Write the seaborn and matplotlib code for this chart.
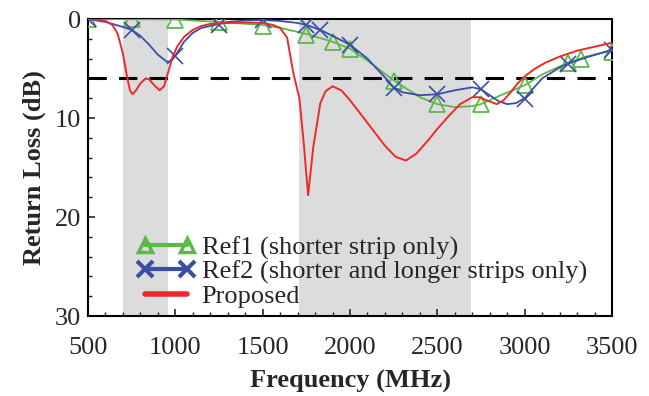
import numpy as np
import pandas as pd
import matplotlib
matplotlib.use("Agg")
import matplotlib.pyplot as plt
from matplotlib.lines import Line2D
from matplotlib.ticker import MultipleLocator
import seaborn as sns

# ---------------- data ----------------
# Proposed (red) curve
prop_f = [500, 550, 600, 640, 670, 700, 720, 740, 755, 775, 800, 830, 850, 880, 910, 935,
          960, 985, 1010, 1050, 1100, 1150, 1200, 1300, 1400, 1500, 1560, 1600, 1640, 1675,
          1710, 1735, 1760, 1790, 1830, 1860, 1900, 1950, 2000, 2100, 2200, 2260, 2320,
          2380, 2450, 2500, 2560, 2630, 2700, 2740, 2780, 2840, 2880, 2920, 2960, 3000,
          3060, 3120, 3200, 3300, 3400, 3500]
prop_rl = [0.0, 0.05, 0.2, 0.6, 1.5, 3.5, 5.5, 7.2, 7.6, 7.2, 6.5, 6.0, 6.1, 6.7, 7.2, 6.8,
           5.3, 3.8, 2.8, 1.8, 1.1, 0.7, 0.5, 0.4, 0.35, 0.4, 0.6, 0.9, 1.9, 5.4,
           8.0, 12.5, 17.8, 12.9, 8.5, 7.3, 6.8, 7.2, 8.2, 10.5, 12.8, 13.9, 14.3,
           13.6, 12.2, 11.1, 9.9, 8.6, 7.9, 7.9, 8.2, 8.6, 8.2, 7.4, 6.5, 5.8,
           5.0, 4.4, 3.8, 3.2, 2.8, 2.4]

# Ref1 (green) curve + markers
ref1_f = [500, 750, 1000, 1250, 1500, 1600, 1750, 1900, 2000, 2100, 2250, 2400, 2500, 2600,
          2700, 2750, 2850, 3000, 3100, 3250, 3350, 3500]
ref1_rl = [0.0, 0.0, 0.05, 0.3, 0.6, 0.9, 1.5, 2.3, 3.0, 4.2, 6.2, 7.9, 8.6, 8.9,
           8.8, 8.6, 7.8, 6.7, 5.6, 4.4, 3.8, 3.2]
ref1_mf = [500, 750, 1000, 1250, 1500, 1750, 1900, 2000, 2250, 2500, 2750, 3000, 3250, 3320, 3500]
ref1_mrl = [0.0, 0.0, 0.1, 0.3, 0.7, 1.6, 2.3, 3.0, 6.3, 8.6, 8.6, 6.7, 4.4, 4.0, 3.3]

# Ref2 (blue) curve + markers
ref2_f = [500, 600, 700, 750, 800, 850, 900, 950, 975, 1000, 1050, 1100, 1150, 1200, 1250,
          1300, 1400, 1500, 1600, 1700, 1750, 1830, 1900, 2000, 2100, 2200, 2250, 2300,
          2400, 2500, 2600, 2700, 2750, 2800, 2850, 2900, 2950, 3000, 3050, 3100, 3200,
          3250, 3350, 3500]
ref2_rl = [0.0, 0.3, 0.8, 1.1, 1.7, 2.6, 3.6, 4.3, 4.3, 3.7, 2.3, 1.4, 0.9, 0.7, 0.5,
           0.3, 0.15, 0.1, 0.2, 0.4, 0.6, 1.1, 1.7, 2.6, 4.0, 5.9, 6.9, 7.4,
           7.7, 7.6, 7.2, 6.9, 7.1, 7.7, 8.3, 8.6, 8.5, 8.0, 7.0, 6.0, 4.9,
           4.5, 3.9, 3.1]
ref2_mf = [500, 750, 1000, 1250, 1500, 1750, 1830, 2000, 2250, 2500, 2750, 3000, 3250, 3500]
ref2_mrl = [0.0, 1.1, 3.7, 0.6, 0.1, 0.6, 1.1, 2.6, 7.0, 7.6, 7.1, 8.1, 4.5, 3.1]

bands = [(700, 960), (1710, 2690)]
threshold = 6
labels = ["Ref1 (shorter strip only)", "Ref2 (shorter and longer strips only)", "Proposed"]
xticks = [500, 1000, 1500, 2000, 2500, 3000, 3500]
yticks = [0, 10, 20, 30]

# ---------------- style ----------------
green = "#5cb84a"
blue = "#3a4ea6"
red = "#ec2a2a"

sns.set_style("ticks")
plt.rcParams["font.family"] = ["Liberation Serif", "DejaVu Serif"]
plt.rcParams["xtick.direction"] = "in"
plt.rcParams["ytick.direction"] = "in"

fig = plt.figure(figsize=(6.49, 3.96), dpi=100)
ax = fig.add_axes([0.1356, 0.2020, 0.8074, 0.7500])

for a, b in bands:
    ax.axvspan(a, b, color="#dcdcdc", lw=0, zorder=0)
ax.axhline(threshold, color="black", lw=2.2, dashes=(6, 4), zorder=1)

sns.lineplot(x=ref1_f, y=ref1_rl, ax=ax, color=green, lw=1.3, sort=False, zorder=3)
sns.lineplot(x=ref1_mf, y=ref1_mrl, ax=ax, color=green, linestyle="", marker="^",
             markersize=11, markerfacecolor="none", markeredgecolor=green,
             markeredgewidth=1.3, sort=False, zorder=3)
sns.lineplot(x=ref2_f, y=ref2_rl, ax=ax, color=blue, lw=1.3, sort=False, zorder=4)
sns.lineplot(x=ref2_mf, y=ref2_mrl, ax=ax, color=blue, linestyle="", marker="x",
             markersize=12, markeredgewidth=1.2, markeredgecolor=blue,
             sort=False, zorder=4)
sns.lineplot(x=prop_f, y=prop_rl, ax=ax, color=red, lw=1.4, sort=False, zorder=5)

ax.set_xlim(500, 3500)
ax.set_ylim(30, 0)
ax.set_xticks(xticks)
ax.set_yticks(yticks)
ax.xaxis.set_minor_locator(MultipleLocator(100))
ax.yaxis.set_minor_locator(MultipleLocator(2))
ax.tick_params(which="major", length=5, width=1.2, labelsize=19, top=False, right=False)
ax.tick_params(axis="x", which="major", pad=15)
ax.tick_params(axis="y", which="major", pad=5)
ax.tick_params(which="minor", length=3, width=1.0, top=False, right=False)
for s in ax.spines.values():
    s.set_linewidth(1.5)
    s.set_color("black")

ax.set_xlabel("Frequency (MHz)", fontsize=19, fontweight="bold", labelpad=8)
ax.set_ylabel("Return Loss (dB)", fontsize=19, fontweight="bold", labelpad=6)

handles = [
    Line2D([0], [0], color=green, lw=3, marker="^", markersize=10, markerfacecolor="none",
           markeredgecolor=green, markeredgewidth=2.5),
    Line2D([0], [0], color=blue, lw=3, marker="x", markersize=12, markeredgewidth=3),
    Line2D([0], [0], color=red, lw=4),
]
leg = ax.legend(handles, labels, loc="lower left", bbox_to_anchor=(0.058, -0.035),
                frameon=False, fontsize=19, numpoints=2, handlelength=2.2,
                handletextpad=0.25, labelspacing=0.02, borderpad=0.2)

fig.savefig("out.png", dpi=100)
